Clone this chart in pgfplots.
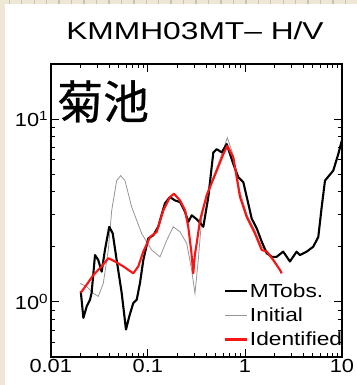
\documentclass[border=0pt]{standalone}
\usepackage{graphicx}
\usepackage{pgfplots}
\pgfplotsset{compat=1.18}
\usepackage{fontspec}
\setmainfont{Liberation Sans}
\newfontfamily\cjk[FakeBold=0.6]{Noto Sans CJK JP}
\definecolor{bg}{RGB}{239,231,214}
\definecolor{ruler}{RGB}{200,194,182}
\definecolor{initgray}{RGB}{150,150,150}
\definecolor{idred}{RGB}{250,20,20}
\newcommand{\sx}[1]{\scalebox{1.15}[1]{#1}}
\newcommand{\lx}[1]{\scalebox{1.2}[1]{#1}}
\begin{document}
\begin{tikzpicture}[x=1bp,y=1bp]
\useasboundingbox (0,0) rectangle (357,385);
\fill[bg] (0,0) rectangle (357,385);
\fill[white] (5,0) rectangle (357,381);
\foreach \i in {0,...,28} { \fill[ruler] ({9.3+12.45*\i-0.7},381) rectangle ({9.3+12.45*\i+0.7},385); }
\node[font=\fontsize{24.5}{28}\selectfont] at (195,354) {\scalebox{1.3}[1]{KMMH03MT– H/V}};
\begin{axis}[
  at={(50.7bp,28.3bp)}, anchor=south west,
  width=291.3bp, height=292.7bp, scale only axis,
  xmode=log, ymode=log,
  xmin=0.01, xmax=10, ymin=0.5, ymax=20,
  xtick={0.01,0.1,1,10}, xticklabels={\sx{0.01},\sx{0.1},\sx{1},\sx{10}},
  ytick={1,10}, yticklabels={\sx{10\textsuperscript{0}},\sx{10\textsuperscript{1}}},
  minor xtick={0.02,0.03,0.04,0.05,0.06,0.07,0.08,0.09,0.2,0.3,0.4,0.5,0.6,0.7,0.8,0.9,2,3,4,5,6,7,8,9},
  minor ytick={0.6,0.7,0.8,0.9,2,3,4,5,6,7,8,9},
  tick align=inside,
  major tick length=8bp, minor tick length=4bp,
  axis line style={line width=1.8bp},
  every tick/.style={black, line width=0.8bp},
  tick label style={font=\fontsize{19}{22}\selectfont},
  xticklabel style={yshift=1bp},
  yticklabel style={xshift=1bp},
  legend style={at={(1.008,0.025)}, anchor=south east, draw=none, fill=none,
    font=\fontsize{19}{22}\selectfont, inner sep=0pt, row sep=5bp},
  legend cell align=left,
  legend image code/.code={\draw[#1] (0bp,0bp) -- (22bp,0bp);},
]
\addplot[initgray, line width=0.8bp, forget plot] coordinates {
(0.0200,1.26) (0.0235,1.21) (0.0275,1.11) (0.0309,1.07) (0.0348,1.26) (0.0392,1.92)
(0.0425,3.16) (0.0478,4.60) (0.0526,4.90) (0.0582,4.60) (0.0682,3.30) (0.0865,2.36)
(0.1096,1.92) (0.1336,1.76) (0.1567,2.17) (0.183,2.57) (0.215,2.41) (0.252,2.08)
(0.283,1.49) (0.306,1.11) (0.331,1.69) (0.36,2.9) (0.404,3.9) (0.513,5.4) (0.60,6.8)
(0.66,7.9) (0.76,6.3) (0.89,4.0) (1.045,3.0) (1.27,2.45) (1.49,2.0) (1.68,1.9)
(1.96,1.72) (2.39,1.45)};
\addplot[black, line width=2.1bp, line join=round, forget plot] coordinates {
(0.0204,1.14) (0.0217,0.815) (0.0235,0.943) (0.0254,1.025) (0.0264,1.12) (0.0286,1.80)
(0.0309,1.69) (0.0335,1.46) (0.0362,1.92) (0.0401,2.57) (0.0435,2.37) (0.0478,1.69)
(0.0538,1.12) (0.0596,0.704) (0.0645,0.832) (0.0709,0.984) (0.0769,1.025) (0.0832,1.27)
(0.0899,1.69) (0.1012,2.22) (0.114,2.31) (0.128,2.57) (0.150,3.45) (0.169,3.74)
(0.191,3.58) (0.215,3.51) (0.242,3.10) (0.261,2.73) (0.283,2.97) (0.313,2.85)
(0.339,2.73) (0.373,2.57) (0.420,3.74) (0.473,6.56) (0.513,6.84) (0.577,6.56)
(0.650,7.29) (0.760,5.67) (0.855,4.80) (0.963,4.51) (1.084,3.44) (1.175,2.85)
(1.324,2.52) (1.49,2.13) (1.68,1.84) (1.89,1.76) (2.12,1.76) (2.48,1.88) (2.91,1.66)
(3.41,1.88) (3.69,1.80) (4.33,1.88) (5.06,2.00) (5.70,2.26) (6.18,3.30) (6.68,4.60)
(8.13,5.22) (9.16,6.43) (9.93,7.59)};
\addplot[idred, line width=2.1bp, line join=round, forget plot] coordinates {
(0.0204,1.12) (0.0235,1.24) (0.0275,1.40) (0.0335,1.56) (0.0392,1.73) (0.0459,1.66)
(0.0560,1.56) (0.0709,1.43) (0.0798,1.56) (0.0899,1.88) (0.1054,2.26) (0.1236,2.41)
(0.1445,3.16) (0.169,3.74) (0.186,3.90) (0.215,3.58) (0.242,3.16) (0.261,2.57)
(0.280,1.9) (0.294,1.43) (0.305,1.8) (0.319,2.09) (0.345,2.79) (0.404,3.82)
(0.513,5.22) (0.600,6.43) (0.659,7.13) (0.760,6.16) (0.891,3.74) (1.045,2.91)
(1.27,2.36) (1.49,1.92) (1.68,1.88) (1.96,1.69) (2.30,1.49) (2.39,1.43)};
\addlegendimage{black, line width=1.6bp}
\addlegendentry{\lx{MTobs.}}
\addlegendimage{initgray, line width=0.8bp}
\addlegendentry{\lx{Initial}}
\addlegendimage{idred, line width=2.2bp}
\addlegendentry{\lx{Identified}}
\node[anchor=north west, inner sep=0pt, font=\cjk\fontsize{46}{46}\selectfont] at (rel axis cs:0.022,0.945) {菊池};
\end{axis}
\end{tikzpicture}
\end{document}
